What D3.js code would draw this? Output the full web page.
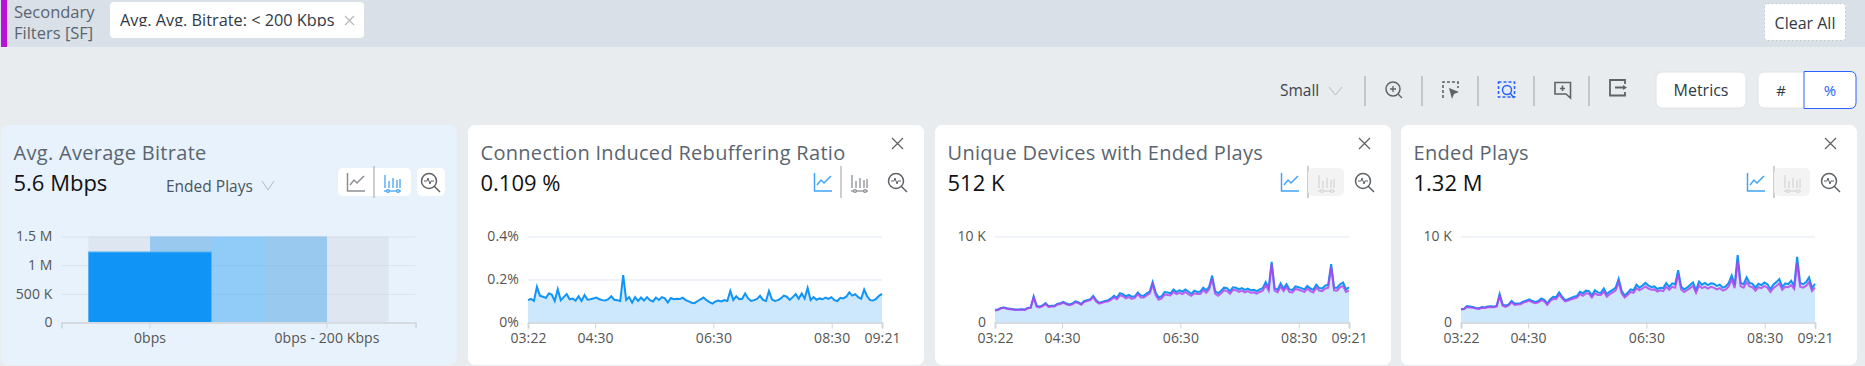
<!DOCTYPE html>
<html>
<head>
<meta charset="utf-8">
<script src="https://cdn.jsdelivr.net/npm/d3@7"></script>
<style>
    html, body { margin: 0; padding: 0; background: #e8ecef; overflow: hidden; }
    svg { display: block; font-family: "Open Sans", sans-serif; }
</style>
</head>
<body>
<div id="chart"></div>
<script>
// --- Bar card data ---
const bitrateCategories = ["0bps", "0bps - 200 Kbps"];
const endedPlaysByBitrate = [1230000, 0];
const bitrateTicks = [0, 500000, 1000000, 1500000];
const bitrateTickLabels = ["0", "500 K", "1 M", "1.5 M"];

// --- Time axis ---
const timeTicks = [[3, 22], [4, 30], [6, 30], [8, 30], [9, 21]];

// --- Connection Induced Rebuffering Ratio (%) ---
const rebufferRatio = [
    .104, .110, .101, .166, .125, .120, .114, .135, .130, .100,
    .155, .103, .118, .132, .108, .111, .102, .122, .100, .128,
    .106, .108, .112, .116, .108, .104, .102, .108, .122, .106,
    .104, .100, .220, .105, .118, .092, .118, .100, .116, .102,
    .118, .104, .098, .116, .105, .118, .112, .093, .114, .108,
    .110, .109, .115, .104, .098, .092, .090, .100, .108, .116,
    .104, .095, .088, .098, .102, .098, .104, .100, .147, .105,
    .122, .108, .110, .135, .112, .100, .104, .110, .124, .105,
    .100, .147, .108, .100, .104, .112, .125, .120, .105, .118,
    .132, .110, .135, .112, .161, .104, .118, .106, .112, .108,
    .116, .110, .118, .104, .100, .115, .112, .120, .140, .125,
    .132, .118, .110, .153, .122, .104, .102, .110, .124, .133
];

// --- Unique Devices with Ended Plays (K) ---
const devicesBlue = [
    1.45, 1.50, 1.70, 1.75, 1.65, 1.60, 1.55, 1.50, 1.52, 1.55,
    1.50, 1.70, 1.75, 3.05, 1.95, 1.85, 2.00, 2.25, 1.90, 1.95,
    1.95, 2.20, 2.25, 2.40, 2.20, 2.10, 2.20, 2.45, 2.35, 2.15,
    2.50, 2.60, 2.70, 3.10, 2.60, 2.30, 2.40, 2.50, 2.60, 2.80,
    3.10, 2.90, 3.40, 3.30, 3.05, 3.20, 3.00, 3.05, 3.50, 3.15,
    3.10, 3.40, 3.60, 4.70, 3.50, 2.90, 3.05, 3.55, 3.50, 3.40,
    3.85, 3.55, 3.75, 3.60, 3.85, 3.60, 3.35, 3.70, 3.55, 3.60,
    4.05, 3.75, 4.15, 5.45, 3.65, 3.40, 3.70, 4.05, 4.00, 3.65,
    4.10, 4.05, 3.85, 4.00, 3.80, 3.95, 3.75, 3.80, 3.65, 3.85,
    4.00, 4.70, 4.00, 7.05, 4.00, 3.80, 4.55, 3.95, 4.45, 3.85,
    3.80, 4.20, 4.10, 4.00, 3.85, 4.25, 3.95, 3.80, 4.40, 4.00,
    3.95, 4.30, 4.40, 6.80, 4.05, 4.05, 4.45, 4.65, 3.85, 4.10
];
const devicesPurple = [
    1.40, 1.46, 1.65, 1.70, 1.60, 1.55, 1.50, 1.45, 1.47, 1.50,
    1.45, 1.65, 1.70, 2.90, 1.85, 1.75, 1.90, 2.15, 1.80, 1.85,
    1.85, 2.10, 2.15, 2.30, 2.10, 2.00, 2.10, 2.35, 2.25, 2.05,
    2.40, 2.50, 2.60, 2.95, 2.45, 2.20, 2.30, 2.40, 2.45, 2.65,
    2.90, 2.70, 3.15, 3.05, 2.80, 2.95, 2.75, 2.85, 3.30, 2.90,
    2.90, 3.15, 3.35, 4.40, 3.20, 2.65, 2.80, 3.25, 3.20, 3.15,
    3.55, 3.30, 3.45, 3.30, 3.55, 3.30, 3.10, 3.40, 3.30, 3.30,
    3.75, 3.45, 3.85, 5.10, 3.35, 3.10, 3.40, 3.75, 3.65, 3.35,
    3.80, 3.75, 3.55, 3.70, 3.50, 3.65, 3.45, 3.50, 3.35, 3.55,
    3.70, 4.35, 3.70, 6.80, 3.70, 3.50, 4.20, 3.65, 4.10, 3.55,
    3.50, 3.90, 3.80, 3.70, 3.55, 3.95, 3.65, 3.50, 4.05, 3.70,
    3.65, 3.95, 4.05, 6.45, 3.75, 3.70, 4.10, 4.25, 3.55, 3.70
];

// --- Ended Plays (K) ---
const playsBlue = [
    1.55, 1.60, 1.90, 1.85, 1.80, 1.70, 1.65, 1.80, 1.75, 1.85,
    1.90, 1.85, 1.95, 3.33, 2.10, 1.95, 2.10, 2.50, 2.20, 2.20,
    2.25, 2.45, 2.55, 2.70, 2.50, 2.40, 2.50, 2.80, 2.65, 2.20,
    2.70, 3.00, 2.95, 3.50, 3.00, 2.60, 2.70, 2.85, 3.00, 3.10,
    3.57, 3.40, 3.70, 3.65, 3.15, 3.76, 3.50, 3.45, 3.95, 3.30,
    3.60, 3.80, 4.05, 5.08, 3.70, 3.14, 3.45, 3.85, 3.75, 4.40,
    4.05, 4.30, 4.60, 4.30, 4.10, 4.20, 3.90, 4.05, 4.00, 4.60,
    4.15, 4.55, 4.45, 6.08, 4.20, 3.85, 4.05, 4.35, 4.65, 3.75,
    4.75, 4.40, 4.60, 4.35, 4.55, 4.50, 4.25, 4.40, 4.05, 4.20,
    4.60, 5.46, 4.35, 7.83, 4.60, 4.45, 5.25, 4.60, 4.50, 4.05,
    4.50, 4.35, 4.65, 4.45, 3.90, 4.40, 4.70, 5.05, 4.15, 4.55,
    4.45, 4.85, 4.25, 7.63, 4.60, 4.45, 4.70, 5.25, 4.00, 4.50
];
const playsPurple = [
    1.50, 1.55, 1.80, 1.75, 1.72, 1.62, 1.58, 1.70, 1.68, 1.78,
    1.80, 1.78, 1.85, 3.10, 1.95, 1.82, 1.98, 2.35, 2.05, 2.08,
    2.12, 2.32, 2.40, 2.55, 2.35, 2.25, 2.35, 2.60, 2.45, 2.05,
    2.50, 2.75, 2.70, 3.25, 2.80, 2.45, 2.55, 2.70, 2.80, 2.90,
    3.30, 3.10, 3.40, 3.35, 2.90, 3.40, 3.20, 3.20, 3.60, 3.00,
    3.30, 3.50, 3.75, 4.70, 3.40, 2.90, 3.20, 3.55, 3.45, 4.00,
    3.75, 3.95, 4.20, 3.95, 3.80, 3.85, 3.60, 3.75, 3.65, 4.15,
    3.80, 4.15, 4.05, 5.60, 3.85, 3.55, 3.75, 4.00, 4.25, 3.45,
    4.30, 4.00, 4.15, 3.95, 4.15, 4.05, 3.85, 4.00, 3.70, 3.85,
    4.20, 5.00, 4.00, 7.10, 4.20, 4.05, 4.70, 4.20, 4.10, 3.70,
    4.10, 4.00, 4.25, 4.05, 3.55, 4.00, 4.25, 4.55, 3.80, 4.15,
    4.10, 4.35, 3.90, 6.90, 4.15, 4.05, 4.25, 4.70, 3.65, 4.05
];

const ink = "#5a6570", blue = "#1094f6", iconBlue = "#42a5f5", iconGrey = "#5f6368";

const svg = d3.select("#chart").append("svg").attr("width", 1865).attr("height", 366);
const defs = svg.append("defs");

function label(g, x, y, txt, size, fill, weight, anchor) {
    return g.append("text").attr("x", x).attr("y", y).text(txt)
        .attr("font-size", size).attr("fill", fill)
        .attr("font-weight", weight || 400)
        .attr("text-anchor", anchor || "start");
}

function chevron(g, x, y, w, h, color) {
    g.append("path").attr("d", `M${x},${y}L${x + w / 2},${y + h}L${x + w},${y}`)
        .attr("fill", "none").attr("stroke", color).attr("stroke-width", 1);
}

function divider(g, x, y1, y2) {
    g.append("line").attr("x1", x).attr("x2", x).attr("y1", y1).attr("y2", y2)
        .attr("stroke", "#a9adb1").attr("stroke-width", 1.2);
}

function lineIcon(g, x, y, color) {
    g.append("path").attr("fill", "none").attr("stroke", color).attr("stroke-width", 1.5)
        .attr("d", `M${x + .5},${y}V${y + 18}H${x + 18}`);
    g.append("path").attr("fill", "none").attr("stroke", color).attr("stroke-width", 1.5)
        .attr("d", `M${x + 3},${y + 12}L${x + 7},${y + 7}L${x + 10},${y + 10}L${x + 17},${y + 3}`);
}

function barsIcon(g, x, y, color) {
    const p = g.append("g").attr("fill", "none").attr("stroke", color).attr("stroke-width", 1.3);
    [1, 5, 9, 13, 16].forEach((dx, i) => {
        p.append("line").attr("x1", x + dx).attr("x2", x + dx)
            .attr("y1", y + [0, 6, 3, 5, 4][i]).attr("y2", y + 13);
    });
    p.append("line").attr("x1", x).attr("x2", x + 17).attr("y1", y + 16).attr("y2", y + 16);
    p.append("circle").attr("cx", x + 4).attr("cy", y + 16).attr("r", 1.4).attr("fill", "#fff");
    p.append("circle").attr("cx", x + 14).attr("cy", y + 16).attr("r", 1.4).attr("fill", "#fff");
}

function zoomIcon(g, x, y) {
    const p = g.append("g").attr("fill", "none").attr("stroke", iconGrey).attr("stroke-width", 1.5);
    p.append("circle").attr("cx", x + 8).attr("cy", y + 8).attr("r", 7.5);
    p.append("line").attr("x1", x + 13).attr("y1", y + 13).attr("x2", x + 19).attr("y2", y + 19);
    p.append("path").attr("stroke-width", 1)
        .attr("d", `M${x + 3},${y + 8}H${x + 6}L${x + 7},${y + 5}L${x + 9},${y + 11}L${x + 10},${y + 8}H${x + 13}`);
}

function closeIcon(g, x, y, size, color, width) {
    g.append("path").attr("fill", "none").attr("stroke", color).attr("stroke-width", width)
        .attr("d", `M${x},${y}L${x + size},${y + size}M${x + size},${y}L${x},${y + size}`);
}

// --- Top filter bar ---
svg.append("rect").attr("width", 1865).attr("height", 47).attr("fill", "#d9e0e7");
svg.append("rect").attr("x", 1).attr("width", 6).attr("height", 47).attr("fill", "#bb10d8");
label(svg, 14, 18, "Secondary", 16.5, ink);
label(svg, 14, 39, "Filters [SF]", 16.5, ink);

svg.append("rect").attr("x", 110).attr("y", 2).attr("width", 254).attr("height", 36).attr("rx", 4).attr("fill", "#fff");
defs.append("clipPath").attr("id", "chip-clip").append("rect")
    .attr("x", 110).attr("y", 2).attr("width", 254).attr("height", 24.5);
label(svg, 120, 26, "Avg. Avg. Bitrate: < 200 Kbps", 16.3, "#2f3a45").attr("clip-path", "url(#chip-clip)");
closeIcon(svg, 345, 16, 9, "#b5b9bd", 1.2);

svg.append("rect").attr("x", 1764.5).attr("y", 3.5).attr("width", 81).attr("height", 37).attr("rx", 3)
    .attr("fill", "#fff").attr("stroke", "#c4c9ce").attr("stroke-dasharray", "2,2");
label(svg, 1805, 29, "Clear All", 16, "#2f3a45", 400, "middle");

// --- Toolbar ---
const tools = svg.append("g");
label(tools, 1280, 96, "Small", 15.5, "#3a4550");
chevron(tools, 1329, 87, 13, 8, "#b5b9bd");
[1365, 1422, 1478, 1534, 1589].forEach(x => divider(tools, x, 76, 106));

// zoom in
tools.append("circle").attr("cx", 1393).attr("cy", 89).attr("r", 7).attr("fill", "none").attr("stroke", iconGrey).attr("stroke-width", 1.5);
tools.append("path").attr("fill", "none").attr("stroke", iconGrey).attr("stroke-width", 1.3)
    .attr("d", "M1390,89H1396M1393,86V92M1398,94L1402,98");
// dashed select
tools.append("path").attr("fill", "none").attr("stroke", iconGrey).attr("stroke-width", 1.6).attr("stroke-dasharray", "3,2")
    .attr("d", "M1443,98V82H1458V88");
tools.append("path").attr("fill", iconGrey).attr("d", "M1449,88L1459,92L1454,94L1452,99Z");
// dashed search (active)
tools.append("rect").attr("x", 1498.5).attr("y", 82).attr("width", 16).attr("height", 15).attr("fill", "none")
    .attr("stroke", "#2962ff").attr("stroke-width", 1.6).attr("stroke-dasharray", "3,2");
tools.append("circle").attr("cx", 1507).attr("cy", 90).attr("r", 4.5).attr("fill", "#e8ecef").attr("stroke", "#2962ff").attr("stroke-width", 1.5);
tools.append("line").attr("x1", 1510).attr("y1", 93).attr("x2", 1514).attr("y2", 98).attr("stroke", "#2962ff").attr("stroke-width", 1.5);
// comment plus
tools.append("path").attr("fill", "none").attr("stroke", iconGrey).attr("stroke-width", 1.6)
    .attr("d", "M1555,82.5H1570.5V98L1566,94H1555ZM1562.5,85.5V91M1560,88.5H1565");
// export
tools.append("path").attr("fill", "none").attr("stroke", iconGrey).attr("stroke-width", 1.8)
    .attr("d", "M1625,84V80H1610V95.5H1625V92M1615,87.5H1625");
tools.append("path").attr("fill", iconGrey).attr("d", "M1623,85L1627,87.5L1623,90Z");

tools.append("rect").attr("x", 1656).attr("y", 72).attr("width", 90).attr("height", 36).attr("rx", 6).attr("fill", "#fff").attr("stroke", "#dfe2e6");
label(tools, 1701, 96, "Metrics", 16, "#2f3a45", 400, "middle");
tools.append("rect").attr("x", 1758).attr("y", 72).attr("width", 97).attr("height", 36).attr("rx", 6).attr("fill", "#fff").attr("stroke", "#dfe2e6");
tools.append("path").attr("fill", "#fff").attr("stroke", "#2962ff")
    .attr("d", "M1804,71.5H1850Q1856,71.5 1856,77.5V102.5Q1856,108.5 1850,108.5H1804Z");
label(tools, 1781, 96, "#", 15, "#2f3a45", 400, "middle");
label(tools, 1830, 96, "%", 15, "#2962ff", 400, "middle");

// --- Cards ---
function drawCard(x0, fill, title, kpi) {
    const g = svg.append("g").attr("transform", `translate(${x0},125)`);
    g.append("rect").attr("width", 456).attr("height", 240).attr("rx", 7).attr("fill", fill);
    label(g, 12.5, 35, title, 20, ink).attr("letter-spacing", "0.3px");
    label(g, 12.5, 66, kpi, 22, "#111", 500);
    return g;
}

function styleAxis(sel) {
    sel.selectAll("text").attr("font-family", "Open Sans").attr("font-size", 14)
        .attr("letter-spacing", "0.1px").attr("fill", "#555");
}

function drawLineCard(x0, title, kpi, yMax, yTicks, yLabels, series, barsDisabled) {
    const g = drawCard(x0, "#fff", title, kpi);
    closeIcon(g, 424, 13, 11, iconGrey, 1.3);
    lineIcon(g, 346, 48, iconBlue);
    divider(g, 373, 41, 73);
    if (barsDisabled) {
        g.append("rect").attr("x", 373).attr("y", 43).attr("width", 36).attr("height", 28).attr("rx", 5).attr("fill", "#f3f3f3");
        barsIcon(g, 383, 50, "#d4d6d8");
    } else {
        barsIcon(g, 383, 50, "#8c9095");
    }
    zoomIcon(g, 420, 48);

    const n = series[0].length;
    const start = new Date(2024, 0, 1, 3, 22), end = new Date(2024, 0, 1, 9, 21);
    const x = d3.scaleTime().domain([start, end]).range([60, 414]);
    const y = d3.scaleLinear().domain([0, yMax]).range([197.5, 111.5]);
    const at = i => new Date(+start + (end - start) * i / (n - 1));

    // gridlines and y labels
    const yAxis = g.append("g").attr("transform", "translate(60,0)")
        .call(d3.axisLeft(y).tickValues(yTicks).tickSize(-354).tickPadding(9)
            .tickFormat((d, i) => yLabels[i]));
    yAxis.select(".domain").remove();
    yAxis.selectAll("line").attr("stroke", "#e1e7f4");
    styleAxis(yAxis);

    const area = d3.area().x((d, i) => x(at(i))).y0(y(0)).y1(d => y(d));
    g.append("path").datum(series[0]).attr("d", area).attr("fill", "#cde8fc");

    const line = d3.line().x((d, i) => x(at(i))).y(d => y(d));
    g.append("path").datum(series[0]).attr("d", line).attr("fill", "none")
        .attr("stroke", blue).attr("stroke-width", 2);
    if (series[1]) {
        g.append("path").datum(series[1]).attr("d", line).attr("fill", "none")
            .attr("stroke", "#b63cf0").attr("stroke-width", 2).attr("stroke-opacity", .8);
    }

    const xAxis = g.append("g").attr("transform", `translate(0,${y(0)})`)
        .call(d3.axisBottom(x)
            .tickValues(timeTicks.map(t => new Date(2024, 0, 1, t[0], t[1])))
            .tickSize(6).tickPadding(4.5)
            .tickFormat(d3.timeFormat("%H:%M")));
    xAxis.select(".domain").attr("stroke", "#d6dbe1").attr("stroke-width", 2);
    xAxis.selectAll("line").attr("stroke", "#d0d5db");
    styleAxis(xAxis);
}

// --- Bitrate bar card ---
function drawBarCard() {
    const g = drawCard(1, "#e8f2fc", "Avg. Average Bitrate", "5.6 Mbps");
    label(g, 165, 67, "Ended Plays", 15.5, "#4a5560");
    chevron(g, 261, 56, 12, 9, "#b5b9bd");

    g.append("rect").attr("x", 337).attr("y", 43).attr("width", 73).attr("height", 28).attr("rx", 5).attr("fill", "#fff");
    g.append("rect").attr("x", 416).attr("y", 43).attr("width", 28).attr("height", 28).attr("rx", 5).attr("fill", "#fff");
    lineIcon(g, 346, 48, "#8c9095");
    divider(g, 373, 41, 73);
    barsIcon(g, 383, 50, iconBlue);
    zoomIcon(g, 420, 48);

    const x = d3.scaleBand().domain(bitrateCategories).range([60.5, 414.5])
        .paddingInner(.305).paddingOuter(.1525);
    const y = d3.scaleLinear().domain([0, 1500000]).range([197.5, 111.5]);

    const yAxis = g.append("g").attr("transform", "translate(60.5,0)")
        .call(d3.axisLeft(y).tickValues(bitrateTicks).tickSize(-354).tickPadding(9)
            .tickFormat((d, i) => bitrateTickLabels[i]));
    yAxis.select(".domain").remove();
    yAxis.selectAll("line").attr("stroke", "#dce3ec");
    styleAxis(yAxis);

    // selected range runs from the centre of one band to the centre of the next
    const mid = d => x(d) + x.bandwidth() / 2;
    g.append("rect")
        .attr("x", mid(bitrateCategories[0])).attr("y", y(1500000))
        .attr("width", mid(bitrateCategories[1]) - mid(bitrateCategories[0]))
        .attr("height", y(0) - y(1500000))
        .attr("fill", blue).attr("fill-opacity", .4);

    g.selectAll("rect.band").data(bitrateCategories).join("rect")
        .attr("class", "band")
        .attr("x", d => x(d)).attr("y", y(1500000))
        .attr("width", x.bandwidth()).attr("height", y(0) - y(1500000))
        .attr("fill", "#b8bfc6").attr("fill-opacity", .2);

    g.selectAll("rect.bar").data(endedPlaysByBitrate).join("rect")
        .attr("class", "bar")
        .attr("x", (d, i) => x(bitrateCategories[i])).attr("y", d => y(d))
        .attr("width", x.bandwidth()).attr("height", d => y(0) - y(d))
        .attr("fill", blue).attr("stroke", "#5ab4f5");

    const xAxis = g.append("g").attr("transform", `translate(0,${y(0)})`)
        .call(d3.axisBottom(x).tickSize(6).tickPadding(4.5));
    xAxis.select(".domain").attr("stroke", "#d6dbe1").attr("stroke-width", 2);
    xAxis.selectAll("line").attr("stroke", "#d0d5db");
    styleAxis(xAxis);
}

drawBarCard();
drawLineCard(468, "Connection Induced Rebuffering Ratio", "0.109 %", .4, [0, .2, .4], ["0%", "0.2%", "0.4%"], [rebufferRatio], false);
drawLineCard(935, "Unique Devices with Ended Plays", "512 K", 10, [0, 10], ["0", "10 K"], [devicesBlue, devicesPurple], true);
drawLineCard(1401, "Ended Plays", "1.32 M", 10, [0, 10], ["0", "10 K"], [playsBlue, playsPurple], true);
</script>
</body>
</html>
